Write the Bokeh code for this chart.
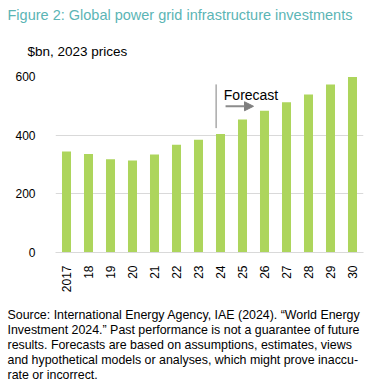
from bokeh.plotting import figure
from bokeh.models import Range1d, Label, Arrow, NormalHead, ColumnDataSource, Title
from bokeh.embed import file_html
from bokeh.resources import INLINE
import math

years = ["2017", "18", "19", "20", "21", "22", "23", "24", "25", "26", "27", "28", "29", "30"]
values = [344, 336, 318, 314, 334, 367, 384, 404, 453, 483, 512, 539, 573, 598]
y_ticks = [0, 200, 400, 600]

title_text = "Figure 2: Global power grid infrastructure investments"
subtitle_text = "$bn, 2023 prices"
forecast_text = "Forecast"
source_lines = [
    "Source: International Energy Agency, IAE (2024). \u201cWorld Energy",
    "Investment 2024.\u201d Past performance is not a guarantee of future",
    "results. Forecasts are based on assumptions, estimates, views",
    "and hypothetical models or analyses, which might prove inaccu-",
    "rate or incorrect.",
]

FONT = "Liberation Sans"
BAR = "#ADD55C"
GRID = "#D9D9D9"

p = figure(
    x_range=years,
    y_range=Range1d(0, 600),
    width=370,
    height=390,
    title=None,
    output_backend="svg",
    toolbar_location=None,
    min_border_left=55,
    min_border_right=7,
    min_border_top=76,
    min_border_bottom=138,
)
p.outline_line_color = None

src = ColumnDataSource(dict(x=years, top=values))
p.vbar(x="x", top="top", width=0.41, source=src, fill_color=BAR, line_color=None)

p.xgrid.grid_line_color = None
p.ygrid.grid_line_color = GRID
p.ygrid.ticker = y_ticks

p.yaxis.ticker = y_ticks
p.yaxis.axis_line_color = None
p.yaxis.major_tick_line_color = None
p.yaxis.minor_tick_line_color = None
p.yaxis.major_label_standoff = 14
p.yaxis.major_label_text_font = FONT
p.yaxis.major_label_text_font_size = "12px"
p.yaxis.major_label_text_color = "#000000"

p.xaxis.axis_line_color = GRID
p.xaxis.major_tick_line_color = None
p.xaxis.minor_tick_line_color = None
p.xaxis.major_label_orientation = math.pi / 2
p.xaxis.major_label_standoff = 7
p.xaxis.major_label_text_font = FONT
p.xaxis.major_label_text_font_size = "12px"
p.xaxis.major_label_text_color = "#000000"

# Title and subtitle stacked above the frame (first added = nearest the frame)
p.add_layout(Title(text=subtitle_text, align="left", offset=-28, standoff=35,
                   text_font=FONT, text_font_size="13.5px", text_font_style="normal",
                   text_color="#000000"), "above")
p.add_layout(Title(text=title_text, align="left", offset=-48, standoff=4,
                   text_font=FONT, text_font_size="14.5px", text_font_style="normal",
                   text_color="#5BB5B5"), "above")

# Forecast annotation
p.segment(x0=[7.3], y0=[424], x1=[7.3], y1=[573], line_color="#7F7F7F", line_width=1)
p.add_layout(Label(x=7.65, y=536, text=forecast_text, text_font=FONT, text_font_size="14px",
                   text_color="#000000", text_baseline="alphabetic"))
p.add_layout(Arrow(x_start=7.73, y_start=498.5, x_end=9.0, y_end=498.5,
                   line_color="#8C8C8C", line_width=2,
                   end=NormalHead(size=9, fill_color="#7F7F7F", line_color="#7F7F7F")))

# spacer between the axis and the source note
p.add_layout(Title(text=" ", text_font_size="1px", standoff=7), "below")

# Source text below the axis
for i, line in enumerate(source_lines):
    p.add_layout(Title(text=line, align="left", offset=-48, standoff=(0 if i == 0 else -1.5),
                       text_font=FONT, text_font_size="12.4px", text_font_style="normal",
                       text_color="#000000"), "below")

open("out.html", "w").write(file_html(p, INLINE))
